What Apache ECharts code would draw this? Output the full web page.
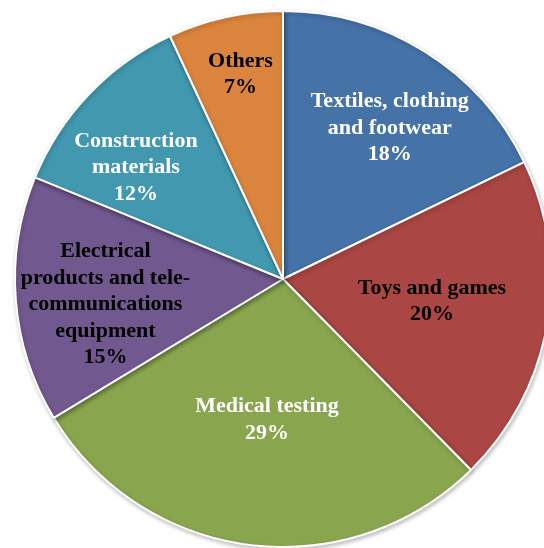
<!DOCTYPE html>
<html>
<head>
<meta charset="utf-8">
<script src="https://cdn.jsdelivr.net/npm/echarts@6/dist/echarts.min.js"></script>
<style>
html,body{margin:0;padding:0;background:#fff;}
#chart{width:544px;height:548px;}
</style>
</head>
<body>
<div id="chart"></div>
<script>
var categories = [
  "Textiles, clothing\nand footwear",
  "Toys and games",
  "Medical testing",
  "Electrical\nproducts and tele-\ncommunications\nequipment",
  "Construction\nmaterials",
  "Others"
];
var values = [18, 20, 29, 15, 12, 7];
var colors = ["#4572A7", "#AA4643", "#89A54E", "#71588F", "#4198AF", "#DB843D"];
var labelColors = ["#ffffff", "#000000", "#ffffff", "#000000", "#ffffff", "#000000"];
var labelOffsets = [[34, -35], [14, -1], [1, 5], [-41, 15], [-48, -17], [-13, -71]];

var data = categories.map(function (c, i) {
  return {
    name: c,
    value: values[i],
    itemStyle: { color: colors[i] },
    label: { color: labelColors[i], offset: labelOffsets[i] }
  };
});

var chart = echarts.init(document.getElementById('chart'));
chart.setOption({
  animation: false,
  series: [{
    type: 'pie',
    center: [283, 279],
    radius: 268,
    startAngle: 90,
    clockwise: true,
    avoidLabelOverlap: false,
    itemStyle: {
      borderColor: '#ffffff',
      borderWidth: 2,
      shadowColor: 'rgba(0,0,0,0.25)',
      shadowBlur: 4,
      shadowOffsetX: 1,
      shadowOffsetY: 2
    },
    label: {
      show: true,
      position: 'inside',
      fontFamily: 'Liberation Serif',
      fontWeight: 'bold',
      fontSize: 22,
      lineHeight: 26.5,
      align: 'center',
      formatter: function (p) { return p.name + '\n' + p.value + '%'; }
    },
    labelLine: { show: false },
    emphasis: { disabled: true },
    data: data
  }]
});
</script>
</body>
</html>
